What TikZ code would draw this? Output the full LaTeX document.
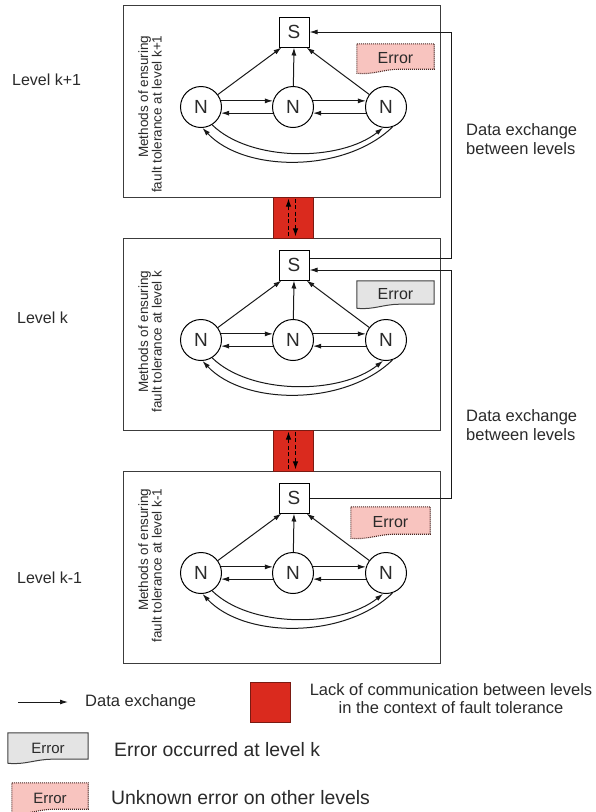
\documentclass[tikz,border=0pt]{standalone}
\usepackage{fontspec}
\setmainfont{Liberation Sans}
\usetikzlibrary{arrows.meta,calc,backgrounds}
\definecolor{boxline}{HTML}{3C3C3C}
\definecolor{txt}{HTML}{2A2A2A}
\definecolor{redfill}{HTML}{DA2A1E}
\definecolor{redline}{HTML}{7A1A12}
\definecolor{pinkfill}{HTML}{F8C4BF}
\definecolor{pinkline}{HTML}{4A2420}
\definecolor{greyfill}{HTML}{E4E4E4}
\definecolor{greyline}{HTML}{404040}
\newcommand\errdoc[2]{%
  \filldraw[#2] (#1.north west) -- (#1.north east) -- ([yshift=4pt]#1.south east)
   -- ($(#1.south west)!0.55!(#1.south east)+(0pt,4pt)$)
   .. controls ($(#1.south west)!0.35!(#1.south east)+(0pt,4pt)$) and ($(#1.south west)!0.2!(#1.south east)+(0pt,-2pt)$) .. (#1.south west) -- cycle;}
\begin{document}
\begin{tikzpicture}[x=1pt,y=-1pt,
  lvlbox/.style={draw=boxline,line width=1.1pt,minimum width=317pt,minimum height=192pt,anchor=north west,inner sep=0pt},
  snode/.style={draw=black,line width=1pt,minimum size=30pt,inner sep=0pt,text=txt,font=\fontsize{19}{19}\selectfont},
  nnode/.style={circle,draw=black,line width=1pt,minimum size=41pt,inner sep=0pt,text=txt,font=\fontsize{19}{19}\selectfont},
  arr/.style={draw=black!90,-{Latex[length=8pt,width=5pt]},line width=1pt},
  dasharr/.style={draw=black,-{Latex[length=8pt,width=5.5pt]},line width=1pt,dash pattern=on 4pt off 2.5pt},
  redbox/.style={fill=redfill,draw=redline,line width=0.8pt,inner sep=0pt},
  rottext/.style={rotate=90,anchor=east,align=right,text=txt,font=\fontsize{13.5}{13.5}\selectfont},
  lbl/.style={text=txt,font=\fontsize{16}{18}\selectfont,inner sep=0pt},
  errnode/.style={inner sep=0pt,text=txt,font=\fontsize{16}{16}\selectfont},
  pinkdoc/.style={fill=pinkfill,draw=pinkline,dash pattern=on 1pt off 1pt,line width=1.1pt},
  greydoc/.style={fill=greyfill,draw=greyline,line width=1pt}]
\useasboundingbox (0,0) rectangle (595,812);

\foreach \i/\dy in {a/0,b/233,c/466}{
 \begin{scope}[yshift=-\dy pt]
  \node[lvlbox] (box\i) at (123,5) {};
  \node[snode] (S\i) at (294,32) {S};
  \node[nnode] (L\i) at (201,107) {N};
  \node[nnode] (M\i) at (293,107) {N};
  \node[nnode] (R\i) at (386,107) {N};
  \draw[arr] (L\i.17) -- (M\i.163);
  \draw[arr] (M\i.197) -- (L\i.343);
  \draw[arr] (M\i.17) -- (R\i.163);
  \draw[arr] (R\i.197) -- (M\i.343);
  \draw[arr] (L\i) -- ([xshift=3pt]S\i.south west);
  \draw[arr] (M\i) -- (S\i.south);
  \draw[arr] (R\i) -- ([xshift=-3pt]S\i.south east);
  \draw[arr] (R\i.-72) .. controls (345,173) and (245,173) .. (L\i.-86);
  \draw[arr] (L\i.-58) .. controls (250,162) and (340,162) .. (R\i.-98);
 \end{scope}
}

% rotated labels
\node[rottext] (Ta) at (150,32) {Methods of ensuring\\fault tolerance at level k+1};
\node[rottext] (Tb) at (150,267) {Methods of ensuring\\fault tolerance at level k};
\node[rottext] (Tc) at (150,485) {Methods of ensuring\\fault tolerance at level k-1};

% level labels
\node[lbl,anchor=west] (La) at (12,80) {Level k+1};
\node[lbl,anchor=west] (Lb) at (17,318) {Level k};
\node[lbl,anchor=west] (Lc) at (17,578) {Level k-1};

% error boxes
\node[errnode,minimum width=77pt,minimum height=29pt] (Ea) at (395.5,58.5) {Error};
\node[errnode,minimum width=77pt,minimum height=27pt] (Eb) at (395.5,294.5) {Error};
\node[errnode,minimum width=79pt,minimum height=31pt] (Ec) at (390.5,522.5) {Error};

% red connectors
\node[redbox,minimum width=40pt,minimum height=41pt] (C1) at (293,217.5) {};
\node[redbox,minimum width=40pt,minimum height=41pt] (C2) at (293,450.5) {};
\foreach \c in {C1,C2}{
  \draw[dasharr] ([xshift=-4.5pt,yshift=2pt]\c.south) -- ([xshift=-4.5pt,yshift=-2pt]\c.north);
  \draw[dasharr] ([xshift=2.5pt,yshift=-2pt]\c.north) -- ([xshift=2.5pt,yshift=2pt]\c.south);
}

% data exchange between levels
\coordinate (bus) at (451,0);
\coordinate (Sbu) at ([yshift=7pt]Sb.east);
\coordinate (Sbd) at ([yshift=-5pt]Sb.east);
\draw[arr] (Sbu) -- (Sbu -| bus) -- (Sa.east -| bus) -- (Sa.east);
\draw[arr] (Sc.east) -- (Sc.east -| bus) -- (Sbd -| bus) -- (Sbd);
\node[lbl,anchor=west,align=left,font=\fontsize{16.5}{18.5}\selectfont] (D1) at (466,139) {Data exchange\\between levels};
\node[lbl,anchor=west,align=left,font=\fontsize{16.5}{18.5}\selectfont] (D2) at (466,425) {Data exchange\\between levels};

% legend
\coordinate (lgA) at (18,702);
\coordinate (lgB) at (68,702);
\draw[arr] (lgA) -- (lgB);
\node[lbl,anchor=west,font=\fontsize{16.5}{18}\selectfont] (lgDX) at (85,702) {Data exchange};
\node[redbox,minimum width=40pt,minimum height=40pt] (lgR) at (270,702) {};
\node[lbl,align=center,font=\fontsize{16.5}{18}\selectfont] (lgRT) at (451,699) {Lack of communication between levels\\in the context of fault tolerance};
\node[errnode,minimum width=80pt,minimum height=30pt,font=\fontsize{15}{15}\selectfont] (lgG) at (48,748) {Error};
\node[lbl,anchor=west,font=\fontsize{19.4}{20}\selectfont] (lgGT) at (114,750) {Error occurred at level k};
\node[errnode,minimum width=76pt,minimum height=30pt,font=\fontsize{15}{15}\selectfont] (lgP) at (50,798) {Error};
\node[lbl,anchor=west,font=\fontsize{19.4}{20}\selectfont] (lgPT) at (111,798) {Unknown error on other levels};

\begin{scope}[on background layer]
  \fill[white] (0,0) rectangle (595,812);
  \errdoc{Ea}{pinkdoc}
  \errdoc{Eb}{greydoc}
  \errdoc{Ec}{pinkdoc}
  \errdoc{lgG}{greydoc}
  \errdoc{lgP}{pinkdoc}
\end{scope}
\end{tikzpicture}
\end{document}
